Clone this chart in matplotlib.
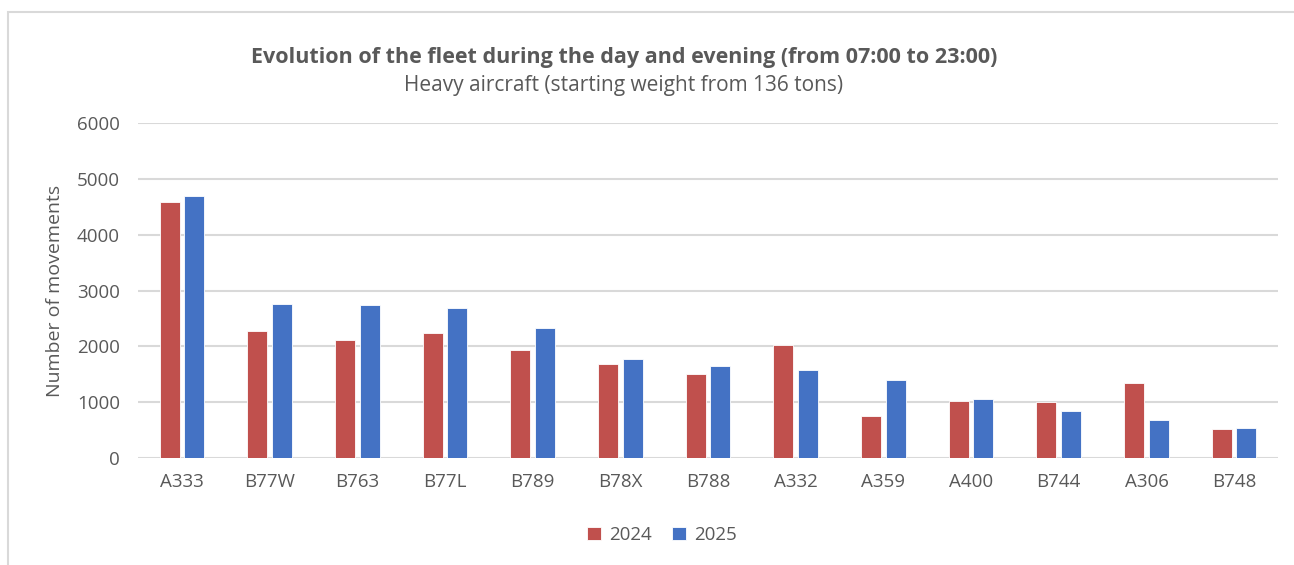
import matplotlib
matplotlib.use("Agg")
import matplotlib.pyplot as plt
import numpy as np
from matplotlib.patches import Rectangle

# fleet movements per aircraft type (07:00-23:00)
aircraft = ["A333", "B77W", "B763", "B77L", "B789", "B78X", "B788",
            "A332", "A359", "A400", "B744", "A306", "B748"]
moves_2024 = [4585, 2275, 2107, 2233, 1940, 1684, 1499, 2018, 746, 1015, 997, 1337, 513]
moves_2025 = [4693, 2752, 2740, 2687, 2322, 1779, 1642, 1570, 1403, 1051, 848, 687, 531]
yticks = [0, 1000, 2000, 3000, 4000, 5000, 6000]

RED = "#C0504D"
BLUE = "#4472C4"
GRID = "#D9D9D9"
TXT = "#595959"

plt.rcParams["font.family"] = ["Open Sans", "DejaVu Sans"]

fig = plt.figure(figsize=(12.94, 5.65), dpi=100)
ax = fig.add_axes([138 / 1294, 107 / 565, 1140 / 1294, 335 / 565])

x = np.arange(len(aircraft))
w = 0.228
off = 0.14
ax.bar(x - off, moves_2024, width=w, color=RED, edgecolor="white", linewidth=0.6, label="2024", zorder=3)
ax.bar(x + off, moves_2025, width=w, color=BLUE, edgecolor="white", linewidth=0.6, label="2025", zorder=3)

ax.set_xlim(-0.5, len(aircraft) - 0.5)
ax.set_ylim(0, 6000)
ax.set_yticks(yticks)
ax.set_xticks(x)
ax.set_xticklabels(aircraft)
ax.tick_params(axis="both", length=0, labelsize=13.5, colors=TXT)
ax.tick_params(axis="x", pad=11)
ax.tick_params(axis="y", pad=13)
ax.yaxis.grid(True, color=GRID, linewidth=1.5, zorder=0)
for s in ax.spines.values():
    s.set_visible(False)
ax.set_ylabel("Number of movements", fontsize=14, color=TXT, labelpad=9)

fig.text(624 / 1294, 1 - 57 / 565, "Evolution of the fleet during the day and evening (from 07:00 to 23:00)",
         ha="center", va="center", fontsize=15.5, fontweight="bold", color=TXT)
fig.text(624 / 1294, 1 - 86 / 565, "Heavy aircraft (starting weight from 136 tons)",
         ha="center", va="center", fontsize=15, color=TXT)

fig.legend(loc="center", bbox_to_anchor=(662 / 1294, 1 - 535 / 565), ncol=2, frameon=False,
           fontsize=13.5, labelcolor=TXT, handlelength=0.75, handleheight=0.75,
           handletextpad=0.4, columnspacing=1.1)

# light frame around chart area (top and left edges visible)
fig.patches.append(Rectangle((8 / 1294, -0.1), 1.2, 1 - 12 / 565 + 0.1, transform=fig.transFigure,
                             fill=False, edgecolor=GRID, linewidth=1.5))

fig.savefig("out.png", dpi=100)
